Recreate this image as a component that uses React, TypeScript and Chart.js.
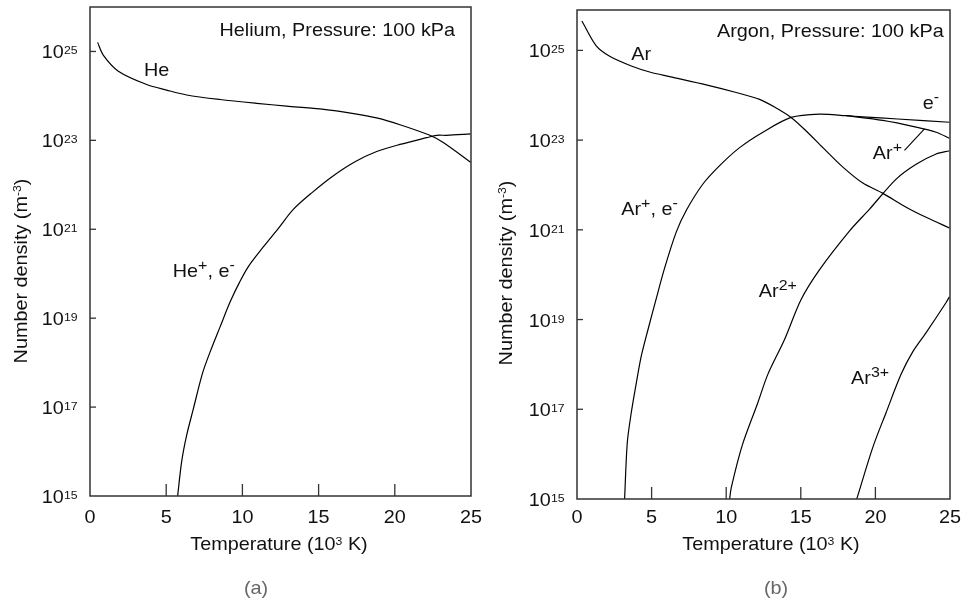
import React, { useEffect, useRef } from "react";
import { Chart, registerables } from "chart.js";

Chart.register(...registerables);

const FONT = '"Liberation Sans", Arial, Helvetica, sans-serif';

// ---------- tick labels ----------
const xTicks = [0, 5, 10, 15, 20, 25];
const yTickExps = [15, 17, 19, 21, 23, 25];

// ---------- (a) Helium ----------
const heT = [0.5, 0.87, 1.86, 3.72, 5.03, 6.34, 8.53, 10.94, 12.9, 15.09, 17.5, 18.81, 20.34, 22.3, 23.18, 24.98];
const heN = [1.6e25, 8.3e24, 3.6e24, 1.8e24, 1.35e24, 1.05e24, 8.3e23, 6.8e23, 5.9e23, 5.1e23, 3.9e23, 3.2e23, 2.25e23, 1.3e23, 8.9e22, 3.2e22];

const heIonT = [5.75, 6.01, 6.34, 6.78, 7.37, 7.87, 8.53, 9.19, 9.8, 10.39, 11.37, 12.36, 13.34, 14.55, 15.97, 17.39, 18.81, 20.34, 22.09, 22.75, 23.4, 24.98];
const heIonN = [1.0e15, 5.8e15, 2.3e16, 9.1e16, 5.6e17, 1.7e18, 6.3e18, 2.3e19, 6.3e19, 1.45e20, 4.0e20, 1.05e21, 2.8e21, 6.6e21, 1.6e22, 3.3e22, 5.6e22, 8.1e22, 1.15e23, 1.3e23, 1.3e23, 1.4e23];

// ---------- (b) Argon ----------
const arT = [0.33, 1.29, 2.19, 3.64, 4.87, 6.21, 8.66, 10.67, 12.24, 13.35, 14.35, 15.36, 16.48, 17.82, 19.16, 20.5, 22.06, 23.4, 24.96];
const arN = [4.5e25, 1.26e25, 7.4e24, 4.5e24, 3.3e24, 2.6e24, 1.7e24, 1.15e24, 8.1e23, 5.2e23, 3.2e23, 1.6e23, 6.8e22, 2.5e22, 1.1e22, 6.5e21, 3.2e21, 1.9e21, 1.1e21];

// Ar+ and e- share one curve up to ~18 kK, then split
const arIonElT = [3.19, 3.37, 3.64, 4.02, 4.31, 4.76, 5.27, 5.87, 6.65, 7.32, 8.44, 9.56, 10.9, 12.46, 14.35, 16.25, 18.04, 19.16, 21.5, 24.96];
const arIonElN = [1.0e15, 1.8e16, 8.5e16, 4.7e17, 1.55e18, 6.0e18, 2.6e19, 1.4e20, 8.9e20, 2.7e21, 1.05e22, 2.7e22, 6.8e22, 1.5e23, 3.2e23, 3.8e23, 3.5e23, 3.3e23, 2.95e23, 2.5e23];

const arIonT = [18.04, 20.5, 22.73, 24.07, 24.96];
const arIonN = [3.5e23, 2.75e23, 1.95e23, 1.5e23, 1.1e23];

const ar2T = [10.23, 10.34, 11.07, 12.12, 12.79, 13.91, 15.02, 16.26, 18.27, 19.61, 21.39, 22.73, 24.07, 24.96];
const ar2N = [1.0e15, 1.8e15, 1.55e16, 1.4e17, 6.0e17, 3.6e18, 2.8e19, 1.3e20, 9.5e20, 2.9e21, 1.35e22, 2.9e22, 4.9e22, 5.8e22];

const ar3T = [18.75, 19.82, 20.72, 21.72, 22.5, 23.4, 24.74, 24.96];
const ar3N = [1.0e15, 1.4e16, 8.5e16, 6.0e17, 1.9e18, 5.1e18, 2.4e19, 3.2e19];

// ---------- text ----------
type Seg = { t: string; sup?: boolean };
type Label = { segs: Seg[]; x: number; y: number; align: "left" | "right" };

const heLabels: Label[] = [
  { segs: [{ t: "Helium, Pressure: 100 kPa" }], x: 23.95, y: 25.35, align: "right" },
  { segs: [{ t: "He" }], x: 3.54, y: 24.45, align: "left" },
  { segs: [{ t: "He" }, { t: "+", sup: true }, { t: ", e" }, { t: "-", sup: true }], x: 5.43, y: 19.92, align: "left" },
];

const arLabels: Label[] = [
  { segs: [{ t: "Argon, Pressure: 100 kPa" }], x: 24.58, y: 25.29, align: "right" },
  { segs: [{ t: "Ar" }], x: 3.64, y: 24.79, align: "left" },
  { segs: [{ t: "e" }, { t: "-", sup: true }], x: 23.17, y: 23.69, align: "left" },
  { segs: [{ t: "Ar" }, { t: "+", sup: true }], x: 19.83, y: 22.58, align: "left" },
  { segs: [{ t: "Ar" }, { t: "+", sup: true }, { t: ", e" }, { t: "-", sup: true }], x: 2.97, y: 21.32, align: "left" },
  { segs: [{ t: "Ar" }, { t: "2+", sup: true }], x: 12.19, y: 19.5, align: "left" },
  { segs: [{ t: "Ar" }, { t: "3+", sup: true }], x: 18.37, y: 17.56, align: "left" },
];

const MAIN = 18.6;
const SX = 1.065;

function drawRich(
  ctx: CanvasRenderingContext2D,
  segs: Seg[],
  x: number,
  y: number,
  align: "left" | "right" | "center",
  size: number,
  supSize: number,
  rise: number
) {
  const widths = segs.map((s) => {
    ctx.font = `${s.sup ? supSize : size}px ${FONT}`;
    return ctx.measureText(s.t).width * SX;
  });
  const total = widths.reduce((a, b) => a + b, 0);
  let cx = align === "right" ? x - total : align === "center" ? x - total / 2 : x;
  ctx.textAlign = "left";
  ctx.textBaseline = "alphabetic";
  segs.forEach((s, i) => {
    ctx.font = `${s.sup ? supSize : size}px ${FONT}`;
    ctx.save();
    ctx.translate(cx, s.sup ? y - rise : y);
    ctx.scale(SX, 1);
    ctx.fillText(s.t, 0, 0);
    ctx.restore();
    cx += widths[i];
  });
}

type Panel = {
  series: { t: number[]; n: number[] }[];
  yMax: number;
  padding: { left: number; top: number; right: number; bottom: number };
  labels: Label[];
  leader?: [number, number, number, number];
  caption: string;
  captionX: number;
  xTitleX: number;
  yTitleX: number;
  yTitleY: number;
};

const panels: Panel[] = [
  {
    series: [
      { t: heT, n: heN },
      { t: heIonT, n: heIonN },
    ],
    yMax: 26,
    padding: { left: 90, top: 7, right: 12, bottom: 108 },
    labels: heLabels,
    caption: "(a)",
    captionX: 256,
    xTitleX: 279,
    yTitleX: 27,
    yTitleY: 271,
  },
  {
    series: [
      { t: arT, n: arN },
      { t: arIonElT, n: arIonElN },
      { t: arIonT, n: arIonN },
      { t: ar2T, n: ar2N },
      { t: ar3T, n: ar3N },
    ],
    yMax: 25.9,
    padding: { left: 94, top: 10, right: 16, bottom: 105 },
    labels: arLabels,
    leader: [21.95, 22.77, 23.29, 23.25],
    caption: "(b)",
    captionX: 293,
    xTitleX: 288,
    yTitleX: 29,
    yTitleY: 273,
  },
];

function PanelChart({ panel, left }: { panel: Panel; left: number }) {
  const ref = useRef<HTMLCanvasElement | null>(null);
  useEffect(() => {
    if (!ref.current) return;
    const decor = {
      id: "decor",
      afterDraw(chart: any) {
        const ctx: CanvasRenderingContext2D = chart.ctx;
        const a = chart.chartArea;
        const xs = chart.scales.x;
        const ys = chart.scales.y;
        ctx.save();
        // frame
        ctx.strokeStyle = "#333";
        ctx.lineWidth = 1.5;
        ctx.strokeRect(a.left, a.top, a.right - a.left, a.bottom - a.top);
        ctx.fillStyle = "#111";
        // x ticks (inward) + labels
        ctx.lineWidth = 1.3;
        xTicks.forEach((v) => {
          const px = xs.getPixelForValue(v);
          if (v > 0 && v < 25) {
            ctx.beginPath();
            ctx.moveTo(px, a.bottom);
            ctx.lineTo(px, a.bottom - 12);
            ctx.stroke();
          }
          drawRich(ctx, [{ t: String(v) }], px, 523, "center", MAIN, 11, 4);
        });
        // y ticks (inward) + labels
        yTickExps.forEach((e) => {
          const py = ys.getPixelForValue(Math.pow(10, e));
          if (e > 15) {
            ctx.beginPath();
            ctx.moveTo(a.left, py);
            ctx.lineTo(a.left + 6, py);
            ctx.stroke();
          }
          drawRich(ctx, [{ t: "10" }, { t: String(e), sup: true }], a.left - 12.5, py + 7, "right", MAIN, 11.5, 4);
        });
        // x title
        drawRich(
          ctx,
          [{ t: "Temperature (10" }, { t: "3", sup: true }, { t: " K)" }],
          panel.xTitleX,
          550,
          "center",
          MAIN,
          11.5,
          5
        );
        // y title
        ctx.save();
        ctx.translate(panel.yTitleX, panel.yTitleY);
        ctx.rotate(-Math.PI / 2);
        drawRich(ctx, [{ t: "Number density (m" }, { t: "-3", sup: true }, { t: ")" }], 0, 0, "center", MAIN, 11.5, 6);
        ctx.restore();
        // in-plot labels
        panel.labels.forEach((l) => {
          const px = xs.getPixelForValue(l.x);
          const py = ys.getPixelForValue(Math.pow(10, l.y));
          drawRich(ctx, l.segs, px, py, l.align, MAIN, 15, 7);
        });
        // leader line
        if (panel.leader) {
          const [x1, y1, x2, y2] = panel.leader;
          ctx.strokeStyle = "#000";
          ctx.lineWidth = 1.1;
          ctx.beginPath();
          ctx.moveTo(xs.getPixelForValue(x1), ys.getPixelForValue(Math.pow(10, y1)));
          ctx.lineTo(xs.getPixelForValue(x2), ys.getPixelForValue(Math.pow(10, y2)));
          ctx.stroke();
        }
        // caption
        ctx.fillStyle = "#666";
        drawRich(ctx, [{ t: panel.caption }], panel.captionX, 594, "center", MAIN, 11, 4);
        ctx.restore();
      },
    };
    const chart = new Chart(ref.current, {
      type: "line",
      data: {
        datasets: panel.series.map((s) => ({
          data: s.t.map((t, i) => ({ x: t, y: s.n[i] })),
          borderColor: "#000",
          borderWidth: 1.2,
          pointRadius: 0,
          fill: false,
          tension: 0.3,
        })),
      },
      options: {
        responsive: false,
        animation: false,
        devicePixelRatio: 1,
        layout: { padding: panel.padding },
        plugins: {
          legend: { display: false },
          tooltip: { enabled: false },
        },
        scales: {
          x: { type: "linear", min: 0, max: 25, display: false },
          y: { type: "logarithmic", min: 1e15, max: Math.pow(10, panel.yMax), display: false },
        },
      },
      plugins: [decor],
    } as any);
    return () => chart.destroy();
  }, [panel]);
  return (
    <canvas
      ref={ref}
      width={483}
      height={604}
      style={{ position: "absolute", left, top: 0, width: 483, height: 604 }}
    />
  );
}

export default function App() {
  return (
    <div style={{ position: "fixed", left: 0, top: 0, width: 966, height: 604, background: "#fff" }}>
      <PanelChart panel={panels[0]} left={0} />
      <PanelChart panel={panels[1]} left={483} />
    </div>
  );
}
